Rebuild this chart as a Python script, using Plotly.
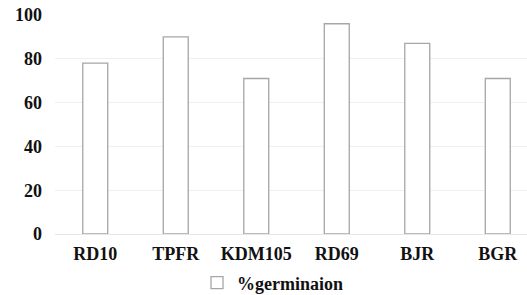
import plotly.graph_objects as go

categories = ["RD10", "TPFR", "KDM105", "RD69", "BJR", "BGR"]
germination = [78, 90, 71, 96, 87, 71]
series_name = "%germinaion"
y_ticks = [0, 20, 40, 60, 80, 100]

FONT = "Liberation Serif"
FS = 18

fig = go.Figure()
fig.add_trace(go.Bar(
    x=categories,
    y=germination,
    name=series_name,
    width=0.31,
    marker=dict(color="white", line=dict(color="#a6a6a6", width=1.3)),
    showlegend=True,
))

fig.update_layout(
    width=527, height=295,
    margin=dict(l=55, r=0, t=15, b=61, autoexpand=False),
    paper_bgcolor="white", plot_bgcolor="white",
    font=dict(family=FONT, size=FS, color="#111111"),
    showlegend=True,
    legend=dict(
        orientation="h",
        xref="container", yref="container",
        x=197/527, xanchor="left",
        y=(295-283)/295, yanchor="middle",
        font=dict(family=FONT, size=FS, color="#111111", weight="bold"),
        itemwidth=30,
        bgcolor="rgba(0,0,0,0)",
    ),
)

fig.update_xaxes(
    type="category",
    range=[-0.5, 5.363],
    showgrid=False,
    showline=False,
    zeroline=False,
    ticks="",
    tickfont=dict(family=FONT, size=FS, color="#111111", weight="bold"),
    ticklabelstandoff=7,
)

fig.update_yaxes(
    range=[0, 100],
    tickvals=y_ticks,
    showgrid=True,
    gridcolor="#efefef",
    gridwidth=1,
    zeroline=True,
    zerolinecolor="#e6e6e6",
    zerolinewidth=1,
    showline=False,
    ticks="",
    tickfont=dict(family=FONT, size=FS, color="#111111", weight="bold"),
    ticklabelstandoff=12,
)

fig.write_html(
    "out.html",
    config={"displayModeBar": False},
    post_script="document.body.style.margin='0';document.body.style.overflow='hidden';",
)
